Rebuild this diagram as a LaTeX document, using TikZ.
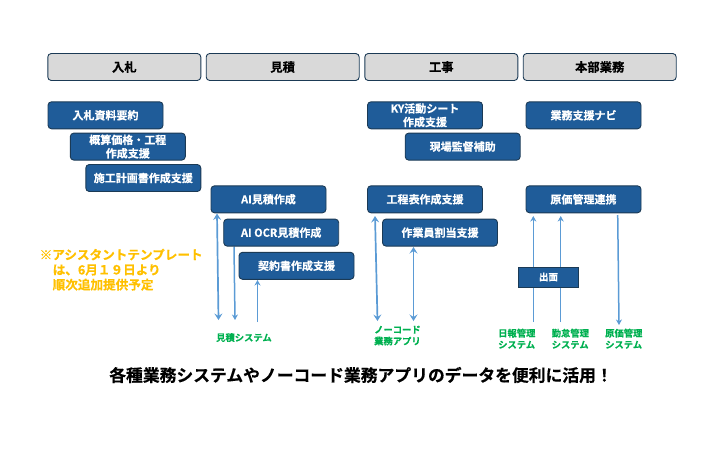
\documentclass[tikz,border=0pt]{standalone}
\usepackage{fontspec}
\setmainfont{Noto Sans CJK JP}[BoldFont={Noto Sans CJK JP Bold},BoldFeatures={FakeBold=0.4}]
\usetikzlibrary{arrows.meta}
\definecolor{boxblue}{HTML}{1F5C99}
\definecolor{boxline}{HTML}{1B3A55}
\definecolor{headfill}{HTML}{D9D9D9}
\definecolor{linkblue}{HTML}{5B9BD5}
\definecolor{noteorange}{HTML}{FFC000}
\definecolor{sysgreen}{HTML}{00B050}
\tikzset{
  headbox/.style={draw=boxline,line width=0.9pt,fill=headfill,rounded corners=3.5pt,minimum width=153pt,minimum height=27pt,inner sep=0pt,text=black,font=\fontsize{12.3}{14}\selectfont\bfseries},
  bluebox/.style={draw=boxline,line width=0.9pt,fill=boxblue,rounded corners=3.5pt,minimum width=115pt,minimum height=27pt,inner sep=0pt,text=white,align=center,font=\fontsize{11}{13.5}\selectfont\bfseries},
  sysbox/.style={bluebox,rounded corners=0pt,minimum width=60pt,minimum height=20pt,font=\fontsize{9.5}{11}\selectfont\bfseries},
  sysname/.style={text=sysgreen,inner sep=0pt,align=left,anchor=north west,font=\fontsize{9.3}{11.5}\selectfont\bfseries},
  link/.style={draw=linkblue,line width=1.5pt},
  oneway/.style={link,-{Stealth[length=5.5pt,width=6pt]}},
  twoway/.style={link,line width=1.7pt,{Stealth[length=6.5pt,width=8pt,inset=2.5pt]}-{Stealth[length=6.5pt,width=8pt,inset=2.5pt]}},
}
\begin{document}
\begin{tikzpicture}[x=1pt,y=-1pt]
\useasboundingbox (0,0) rectangle (708,450);
% headers
\node[headbox] (h1) at (124.3,67) {入札};
\node[headbox] (h2) at (282.7,67) {見積};
\node[headbox] (h3) at (441.3,67) {工事};
\node[headbox] (h4) at (599.7,67) {本部業務};
% free ends of connectors
\coordinate (e1a) at (217,213.5);  \coordinate (e1b) at (218.5,320);
\coordinate (e2a) at (234,246.5);  \coordinate (e2b) at (235,320);
\coordinate (e3a) at (257.5,322);  \coordinate (e3b) at (257.5,280);
\coordinate (e4a) at (375,216);    \coordinate (e4b) at (377.5,321);
\coordinate (e5a) at (413.5,247);  \coordinate (e5b) at (413.5,321);
\coordinate (e6a) at (533.3,322);  \coordinate (e6b) at (533.3,216);
\coordinate (e7a) at (560.7,322);  \coordinate (e7b) at (560.7,216);
\coordinate (e8a) at (617.7,215);  \coordinate (e8b) at (619,325);
\draw[twoway] (e1a) -- (e1b);
\draw[oneway] (e2a) -- (e2b);
\draw[oneway] (e3a) -- (e3b);
\draw[twoway] (e4a) -- (e4b);
\draw[twoway] (e5a) -- (e5b);
\draw[oneway] (e6a) -- (e6b);
\draw[oneway] (e7a) -- (e7b);
\draw[oneway] (e8a) -- (e8b);
% boxes
\node[bluebox] (b1) at (105.5,115.3) {入札資料要約};
\node[bluebox] (b2) at (127.8,146.6) {概算価格・工程\\作成支援};
\node[bluebox] (b3) at (143.3,178) {施工計画書作成支援};
\node[bluebox] (b4) at (268.5,199.3) {AI見積作成};
\node[bluebox] (b5) at (281.2,232.6) {AI OCR見積作成};
\node[bluebox] (b6) at (296.5,265.8) {契約書作成支援};
\node[bluebox] (b7) at (425,115.3) {KY活動シート\\作成支援};
\node[bluebox] (b8) at (462.7,146.6) {現場監督補助};
\node[bluebox] (b9) at (425,199.3) {工程表作成支援};
\node[bluebox] (b10) at (440,232.6) {作業員割当支援};
\node[bluebox] (b11) at (583.5,115.3) {業務支援ナビ};
\node[bluebox] (b12) at (583.5,199.3) {原価管理連携};
\node[sysbox] (b13) at (548.5,277) {出面};
% note
\node[text=noteorange,inner sep=0pt,anchor=north west,align=left,font=\fontsize{12.6}{15}\selectfont\bfseries] (note) at (39.5,248.5) {※アシスタントテンプレート\\\hspace*{13pt}は、6月１９日より\\\hspace*{13pt}順次追加提供予定};
% system names
\node[sysname] (s1) at (216,333) {見積システム};
\node[sysname] (s2) at (374,325.5) {ノーコード\\業務アプリ};
\node[sysname] (s3) at (498,328.5) {日報管理\\システム};
\node[sysname] (s4) at (551.5,328.5) {勤怠管理\\システム};
\node[sysname] (s5) at (605,328.5) {原価管理\\システム};
% caption
\node[inner sep=0pt,text=black,font=\fontsize{16.8}{20}\selectfont\bfseries] (cap) at (361,375) {各種業務システムやノーコード業務アプリのデータを便利に活用！};
\end{tikzpicture}
\end{document}
